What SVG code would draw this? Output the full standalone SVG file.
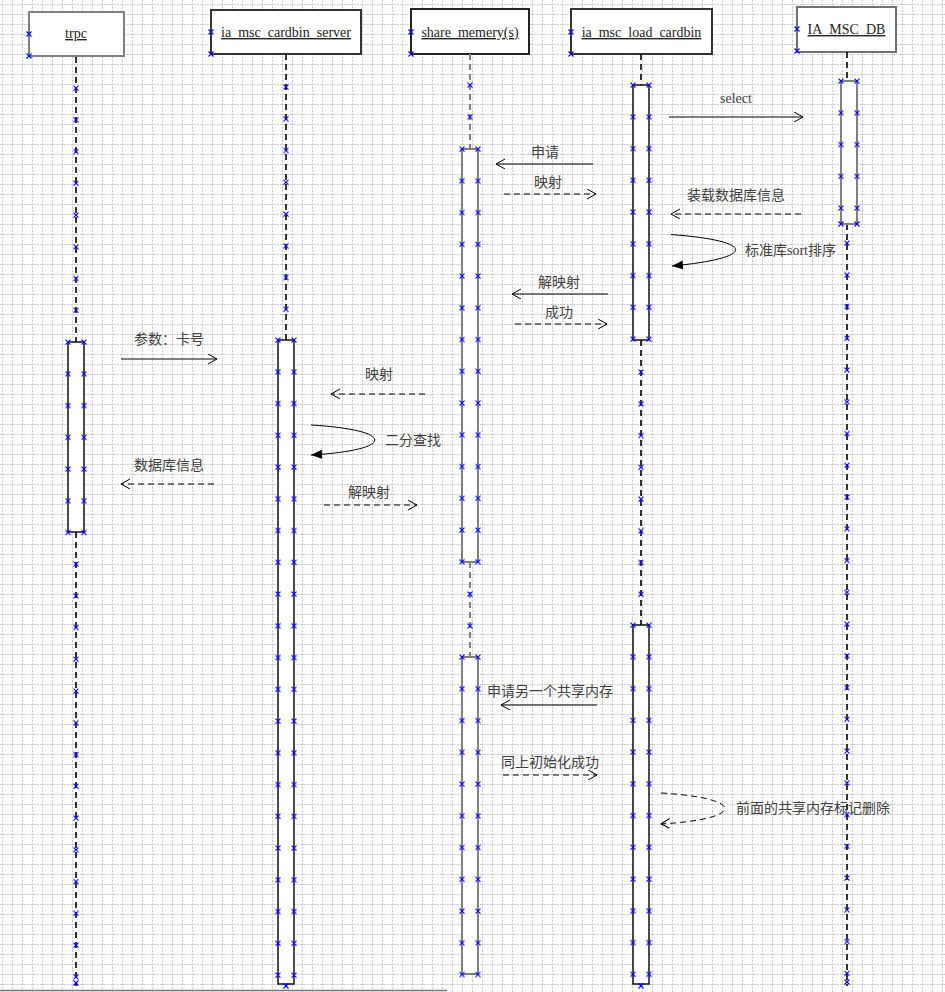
<svg xmlns="http://www.w3.org/2000/svg" width="945" height="992" viewBox="0 0 945 992">
  <style>
    .box { fill: #fff; stroke-width: 2; }
    .title { font-family: "Liberation Serif", serif; font-size: 14px; fill: #222; text-anchor: middle; text-decoration: underline; }
    .life { stroke: #000; stroke-width: 1.6; stroke-dasharray: 6 4; fill: none; }
    .life-gray { stroke: #808080; stroke-width: 2; stroke-dasharray: 6 4; fill: none; }
    .bar { fill: #fff; stroke: #111; stroke-width: 1.5; }
    .bar-gray { fill: #fff; stroke: #808080; stroke-width: 2; }
    .msg { stroke: #000; stroke-width: 1; fill: none; }
    .ret { stroke: #000; stroke-width: 1; fill: none; stroke-dasharray: 6 4; }
    .lbl { font-family: "Liberation Serif", "Noto Sans CJK SC", serif; font-size: 14px; fill: #404040; }
    .pts { fill: url(#mk); }
  </style>
  <defs>
    <!-- background grid, 10px pitch -->
    <pattern id="grid" patternUnits="userSpaceOnUse" x="0" y="0" width="10" height="10">
      <path d="M2.5 0V10" stroke="#c8c8c8" stroke-width="1" stroke-dasharray="2 1.3333"/>
      <path d="M0 4.5H10" stroke="#c8c8c8" stroke-width="1" stroke-dasharray="2 1.3333"/>
    </pattern>
    <!-- connection point crosses, repeated down a column -->
    <pattern id="mk" patternUnits="userSpaceOnUse" x="-5" y="-5" width="10" height="31.75">
      <path d="M2.5 2.5L7.5 7.5M7.5 2.5L2.5 7.5" stroke="#0000ff" stroke-width="1.1"/>
    </pattern>
    <path id="x" d="M-2.5 -2.5L2.5 2.5M2.5 -2.5L-2.5 2.5" stroke="#0000ff" stroke-width="1.1"/>
    <marker id="open" markerUnits="userSpaceOnUse" markerWidth="12" markerHeight="12" refX="9" refY="5" orient="auto">
      <path d="M0 0L9 5L0 10" fill="none" stroke="#000" stroke-width="1"/>
    </marker>
    <marker id="solid" markerUnits="userSpaceOnUse" markerWidth="14" markerHeight="12" refX="11" refY="4.5" orient="auto">
      <path d="M0 0L11 4.5L0 9Z" fill="#000"/>
    </marker>
  </defs>

  <rect width="945" height="992" fill="#fff"/>
  <rect width="945" height="992" fill="url(#grid)"/>

  <!-- object: trpc -->
  <g id="trpc">
    <rect class="box" x="29" y="12" width="95" height="44" stroke="#808080"/>
    <text class="title" x="76" y="38">trpc</text>
    <path class="life" d="M76 57V342M76 532V986"/>
    <rect class="bar" x="68" y="342" width="16" height="190"/>
    <use href="#x" x="29" y="34"/><use href="#x" x="29" y="56"/>
    <g transform="translate(76,88)"><rect class="pts" x="-5" y="-5" width="10" height="232.25"/></g>
    <g transform="translate(68,342)"><rect class="pts" x="-5" y="-5" width="10" height="200.5"/></g>
    <g transform="translate(84,342)"><rect class="pts" x="-5" y="-5" width="10" height="200.5"/></g>
    <g transform="translate(76,564)"><rect class="pts" x="-5" y="-5" width="10" height="422.75"/></g>
    <use href="#x" x="76" y="983"/>
  </g>

  <!-- object: ia_msc_cardbin_server -->
  <g id="cardbin_server">
    <rect class="box" x="211" y="10" width="150" height="44" stroke="#333"/>
    <text class="title" x="286" y="37">ia_msc_cardbin_server</text>
    <path class="life" d="M286 54V340"/>
    <rect class="bar" x="278" y="340" width="16" height="644"/>
    <use href="#x" x="211" y="32"/><use href="#x" x="211" y="54"/>
    <g transform="translate(286,87)"><rect class="pts" x="-5" y="-5" width="10" height="232.25"/></g>
    <g transform="translate(278,340)"><rect class="pts" x="-5" y="-5" width="10" height="645"/></g>
    <g transform="translate(294,340)"><rect class="pts" x="-5" y="-5" width="10" height="645"/></g>
    <use href="#x" x="286" y="986"/>
  </g>

  <!-- object: share_memery(s) -->
  <g id="share_memery">
    <rect class="box" x="411" y="9" width="118" height="45" stroke="#222"/>
    <text class="title" x="470" y="37">share_memery(s)</text>
    <path class="life-gray" d="M470 54V149M470 562V656"/>
    <rect class="bar-gray" x="462" y="149" width="16" height="413"/>
    <rect class="bar-gray" x="462" y="657" width="16" height="317"/>
    <use href="#x" x="411" y="32"/><use href="#x" x="411" y="54"/>
    <g transform="translate(470,85)"><rect class="pts" x="-5" y="-5" width="10" height="41.75"/></g>
    <g transform="translate(462,149)"><rect class="pts" x="-5" y="-5" width="10" height="422.75"/></g>
    <g transform="translate(478,149)"><rect class="pts" x="-5" y="-5" width="10" height="422.75"/></g>
    <g transform="translate(470,594)"><rect class="pts" x="-5" y="-5" width="10" height="41.75"/></g>
    <g transform="translate(462,657)"><rect class="pts" x="-5" y="-5" width="10" height="327.5"/></g>
    <g transform="translate(478,657)"><rect class="pts" x="-5" y="-5" width="10" height="327.5"/></g>
  </g>

  <!-- object: ia_msc_load_cardbin -->
  <g id="load_cardbin">
    <rect class="box" x="571" y="9" width="141" height="45" stroke="#333"/>
    <text class="title" x="641.5" y="37">ia_msc_load_cardbin</text>
    <path class="life" d="M641 54V85M641 340V625"/>
    <rect class="bar" x="633" y="85" width="16" height="255"/>
    <rect class="bar" x="633" y="625" width="16" height="359"/>
    <use href="#x" x="571" y="32"/><use href="#x" x="571" y="54"/>
    <g transform="translate(633,85)"><rect class="pts" x="-5" y="-5" width="10" height="264"/></g>
    <g transform="translate(649,85)"><rect class="pts" x="-5" y="-5" width="10" height="264"/></g>
    <g transform="translate(641,372)"><rect class="pts" x="-5" y="-5" width="10" height="232.25"/></g>
    <g transform="translate(633,625)"><rect class="pts" x="-5" y="-5" width="10" height="359.25"/></g>
    <g transform="translate(649,625)"><rect class="pts" x="-5" y="-5" width="10" height="359.25"/></g>
    <use href="#x" x="641" y="986"/>
  </g>

  <!-- object: IA_MSC_DB -->
  <g id="ia_msc_db">
    <rect class="box" x="797" y="7" width="99" height="45" stroke="#707070"/>
    <text class="title" x="846.5" y="34">IA_MSC_DB</text>
    <path class="life" d="M847 52V81M847 224V986"/>
    <rect class="bar-gray" x="841" y="81" width="16" height="143"/>
    <use href="#x" x="797" y="29"/><use href="#x" x="797" y="51"/>
    <g transform="translate(841,81)"><rect class="pts" x="-5" y="-5" width="10" height="137"/></g>
    <g transform="translate(857,81)"><rect class="pts" x="-5" y="-5" width="10" height="137"/></g>
    <use href="#x" x="841" y="224"/><use href="#x" x="857" y="224"/>
    <g transform="translate(847,243)"><rect class="pts" x="-5" y="-5" width="10" height="740.25"/></g>
    <use href="#x" x="847" y="982"/>
  </g>

  <!-- messages -->
  <g id="connectors">
    <path class="msg" d="M669 117H803" marker-end="url(#open)"/>
    <path class="msg" d="M593 164H496" marker-end="url(#open)"/>
    <path class="ret" d="M504 194H596" marker-end="url(#open)"/>
    <path class="ret" d="M801 214H671" marker-end="url(#open)"/>
    <path class="msg" d="M671 234.5C757 241 757 258 672 266" marker-end="url(#solid)"/>
    <path class="msg" d="M608 294H512" marker-end="url(#open)"/>
    <path class="ret" d="M515 324H607" marker-end="url(#open)"/>
    <path class="msg" d="M121 359H217" marker-end="url(#open)"/>
    <path class="ret" d="M425 394H331" marker-end="url(#open)"/>
    <path class="msg" d="M311 425C396 430 396 450 311 455" marker-end="url(#solid)"/>
    <path class="ret" d="M214 484H121" marker-end="url(#open)"/>
    <path class="ret" d="M324 505H417" marker-end="url(#open)"/>
    <path class="msg" d="M597 705H501" marker-end="url(#open)"/>
    <path class="ret" d="M503 775H597" marker-end="url(#open)"/>
    <path class="ret" d="M661 793C746 798 746 819 661 824" marker-end="url(#open)"/>
  </g>

  <!-- message labels -->
  <g id="labels">
    <text class="lbl" x="720" y="103">select</text>
    <text class="lbl" x="531" y="157">申请</text>
    <text class="lbl" x="534" y="187">映射</text>
    <text class="lbl" x="687" y="200">装载数据库信息</text>
    <text class="lbl" x="745" y="255">标准库sort排序</text>
    <text class="lbl" x="538" y="287">解映射</text>
    <text class="lbl" x="545" y="317">成功</text>
    <text class="lbl" x="134" y="344">参数：卡号</text>
    <text class="lbl" x="365" y="379">映射</text>
    <text class="lbl" x="385" y="445">二分查找</text>
    <text class="lbl" x="134" y="470">数据库信息</text>
    <text class="lbl" x="348" y="497">解映射</text>
    <text class="lbl" x="487" y="696">申请另一个共享内存</text>
    <text class="lbl" x="501" y="767">同上初始化成功</text>
    <text class="lbl" x="736" y="813">前面的共享内存标记删除</text>
  </g>

  <path d="M0 990.5H447" stroke="#777" stroke-width="1.5"/>
</svg>
